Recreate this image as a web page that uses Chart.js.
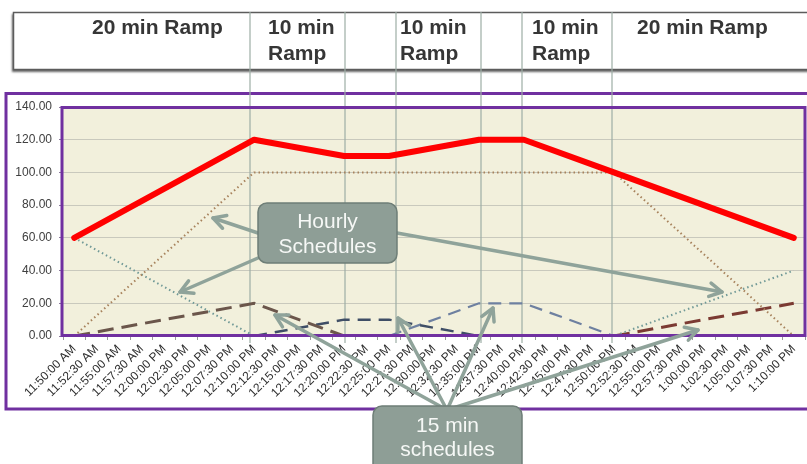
<!DOCTYPE html>
<html><head><meta charset="utf-8">
<script src="https://cdn.jsdelivr.net/npm/chart.js@4.4.0/dist/chart.umd.min.js"></script>
<style>html,body{margin:0;padding:0;background:#fff;overflow:hidden}canvas{display:block}</style>
</head><body>
<canvas id="c" width="807" height="464"></canvas>
<script>
const N = null;
const timeLabels = ["11:50:00 AM","11:52:30 AM","11:55:00 AM","11:57:30 AM","12:00:00 PM","12:02:30 PM","12:05:00 PM","12:07:30 PM","12:10:00 PM","12:12:30 PM","12:15:00 PM","12:17:30 PM","12:20:00 PM","12:22:30 PM","12:25:00 PM","12:27:30 PM","12:30:00 PM","12:32:30 PM","12:35:00 PM","12:37:30 PM","12:40:00 PM","12:42:30 PM","12:45:00 PM","12:47:30 PM","12:50:00 PM","12:52:30 PM","12:55:00 PM","12:57:30 PM","1:00:00 PM","1:02:30 PM","1:05:00 PM","1:07:30 PM","1:10:00 PM"];
const yTickValues = [0,20,40,60,80,100,120,140];
const headerRow1 = ["20 min Ramp","10 min","10 min","10 min","20 min Ramp"];
const headerRow2 = ["","Ramp","Ramp","Ramp",""];
const hourlyNote = ["Hourly","Schedules"];
const quarterNote = ["15 min","schedules"];

const totalSchedule = [60,N,N,N,N,N,N,N,120,N,N,N,110,N,110,N,N,N,120,N,120,N,N,N,100,N,N,N,N,N,N,N,60];
const hourlyUp      = [0,N,N,N,N,N,N,N,100,N,N,N,N,N,N,N,N,N,N,N,N,N,N,N,100,N,N,N,N,N,N,N,0];
const hourlyDown    = [60,N,N,N,N,N,N,N,0,N,N,N,N,N,N,N,N,N,N,N,N,N,N,N,0,N,N,N,N,N,N,N,40];
const quarterA      = [0,N,N,N,N,N,N,N,20,N,N,N,0,N,N,N,N,N,N,N,N,N,N,N,N,N,N,N,N,N,N,N,N];
const quarterB      = [N,N,N,N,N,N,N,N,0,N,N,N,10,N,10,N,N,N,0,N,N,N,N,N,N,N,N,N,N,N,N,N,N];
const quarterC      = [N,N,N,N,N,N,N,N,N,N,N,N,N,N,0,N,N,N,20,N,20,N,N,N,0,N,N,N,N,N,N,N,N];
const quarterD      = [N,N,N,N,N,N,N,N,N,N,N,N,N,N,N,N,N,N,N,N,N,N,N,N,0,N,N,N,N,N,N,N,20];

const FONT = '"Liberation Sans", Arial, sans-serif';
Chart.defaults.font.family = FONT;

const style = {
  headerBox: {x:13, y:12, w:820, h:58},
  headerLines: [250, 345, 396, 481, 522, 612],
  headerText1: [92,268,400,532,637],
  headerText2: [null,268,400,532,null],
  hourlyBox: {x:258,y:203,w:139,h:60},
  quarterBox: {x:373,y:406,w:149,h:70},
  hourlyArrows: [[258,233,213,218],[258,258,180,292],[397,233,722,292]],
  quarterArrows: [[447,410,275,315],[447,410,398,318],[447,410,493,308],[447,410,698,330]]
};

function arrow(ctx,x1,y1,x2,y2){
  const ang = Math.atan2(y2-y1,x2-x1), L = 14, s = 0.5;
  ctx.beginPath(); ctx.moveTo(x1,y1); ctx.lineTo(x2,y2); ctx.stroke();
  ctx.beginPath();
  ctx.moveTo(x2 - L*Math.cos(ang-s), y2 - L*Math.sin(ang-s));
  ctx.lineTo(x2,y2);
  ctx.lineTo(x2 - L*Math.cos(ang+s), y2 - L*Math.sin(ang+s));
  ctx.stroke();
}
function noteBox(ctx,b,lines,cx,baselines){
  ctx.save();
  ctx.beginPath(); ctx.roundRect(b.x,b.y,b.w,b.h,9);
  ctx.fillStyle='#8E9E96'; ctx.fill();
  ctx.strokeStyle='#6E7E77'; ctx.lineWidth=1.5; ctx.stroke();
  ctx.fillStyle='#F6F8F6'; ctx.font='21px '+FONT; ctx.textAlign='center'; ctx.textBaseline='alphabetic';
  lines.forEach((t,i)=>ctx.fillText(t,cx,baselines[i]));
  ctx.restore();
}

const decor = {
  id:'decor',
  beforeDraw(chart){
    const ctx=chart.ctx, a=chart.chartArea, hb=style.headerBox;
    ctx.save();
    ctx.fillStyle='#fff'; ctx.fillRect(0,0,chart.width,chart.height);
    ctx.shadowColor='rgba(0,0,0,0.6)'; ctx.shadowOffsetY=2; ctx.shadowOffsetX=-1; ctx.shadowBlur=2;
    ctx.fillStyle='#fff'; ctx.fillRect(hb.x,hb.y,hb.w,hb.h);
    ctx.shadowColor='transparent';
    ctx.strokeStyle='#5c5c5c'; ctx.lineWidth=1.5; ctx.strokeRect(hb.x+0.5,hb.y+0.5,hb.w,hb.h-1);
    ctx.fillStyle='#363636'; ctx.font='bold 21px '+FONT; ctx.textBaseline='alphabetic';
    headerRow1.forEach((t,i)=>{ ctx.fillText(t,style.headerText1[i],34); });
    headerRow2.forEach((t,i)=>{ const x=style.headerText2[i]; if(x!==null&&t) ctx.fillText(t,x,60); });
    ctx.strokeStyle='#7030A0'; ctx.lineWidth=3; ctx.strokeRect(6,93.5,900,315.5);
    ctx.fillStyle='#F2F0DC'; ctx.fillRect(a.left,a.top,a.width,a.height);
    ctx.restore();
  },
  beforeDatasetsDraw(chart){
    const ctx=chart.ctx;
    ctx.save(); ctx.strokeStyle='#9DADA5'; ctx.lineWidth=1.2;
    style.headerLines.forEach(x=>{ ctx.beginPath(); ctx.moveTo(x,12); ctx.lineTo(x,343); ctx.stroke(); });
    ctx.restore();
  },
  afterDatasetsDraw(chart){
    const ctx=chart.ctx, a=chart.chartArea;
    ctx.save(); ctx.strokeStyle='#7030A0'; ctx.lineWidth=3;
    ctx.strokeRect(a.left-1, a.top+0.5, a.width+1, a.height-1);
    ctx.restore();
  },
  afterDraw(chart){
    const ctx=chart.ctx;
    ctx.save();
    ctx.strokeStyle='#8FA39A'; ctx.lineWidth=3.5; ctx.lineCap='round'; ctx.lineJoin='round';
    style.hourlyArrows.forEach(p=>arrow(ctx,...p));
    style.quarterArrows.forEach(p=>arrow(ctx,...p));
    ctx.restore();
    noteBox(ctx,style.hourlyBox,hourlyNote,327.5,[228,253]);
    noteBox(ctx,style.quarterBox,quarterNote,447.5,[432,456]);
  }
};

const dotted = (data,color)=>({data,borderColor:color,borderWidth:2,borderDash:[1.5,3],pointRadius:0,spanGaps:true,fill:false,tension:0});
const dashed = (data,color,w,dash)=>({data,borderColor:color,borderWidth:w,borderDash:dash,pointRadius:0,spanGaps:true,fill:false,tension:0});

new Chart(document.getElementById('c'),{
  type:'line',
  data:{
    labels:timeLabels,
    datasets:[
      {data:totalSchedule,borderColor:'#FF0000',borderWidth:6,pointRadius:0,spanGaps:true,borderCapStyle:'round',borderJoinStyle:'round',fill:false,tension:0},
      dotted(hourlyUp,'#A7825C'),
      dotted(hourlyDown,'#6F9896'),
      dashed(quarterA,'#6B564B',3,[16,8]),
      dashed(quarterB,'#3F4E66',2.5,[13,8]),
      dashed(quarterC,'#6E80A0',2.2,[13,8]),
      dashed(quarterD,'#7B3A32',3,[16,8])
    ]
  },
  options:{
    responsive:false, animation:false, devicePixelRatio:1,
    layout:{padding:{top:107,right:2,left:0,bottom:0}},
    plugins:{legend:{display:false},tooltip:{enabled:false}},
    scales:{
      x:{
        offset:true,
        grid:{offset:true,drawOnChartArea:false,drawTicks:true,tickLength:4,color:'#9a9a9a'},
        border:{display:false},
        ticks:{autoSkip:false,maxRotation:45,minRotation:45,color:'#2e2e2e',font:{size:12},padding:2},
        afterFit(s){ s.height = 464-336; }
      },
      y:{
        min:0,max:140,
        afterBuildTicks(s){ s.ticks = yTickValues.map(v=>({value:v})); },
        ticks:{color:'#404040',font:{size:12},padding:7,callback:v=>Number(v).toFixed(2)},
        grid:{color:'#C9C9BD',lineWidth:1,drawTicks:true,tickLength:4,tickColor:'#8a7a9a'},
        border:{display:false},
        afterFit(s){ s.width = 63; }
      }
    }
  },
  plugins:[decor]
});
</script>
</body></html>
